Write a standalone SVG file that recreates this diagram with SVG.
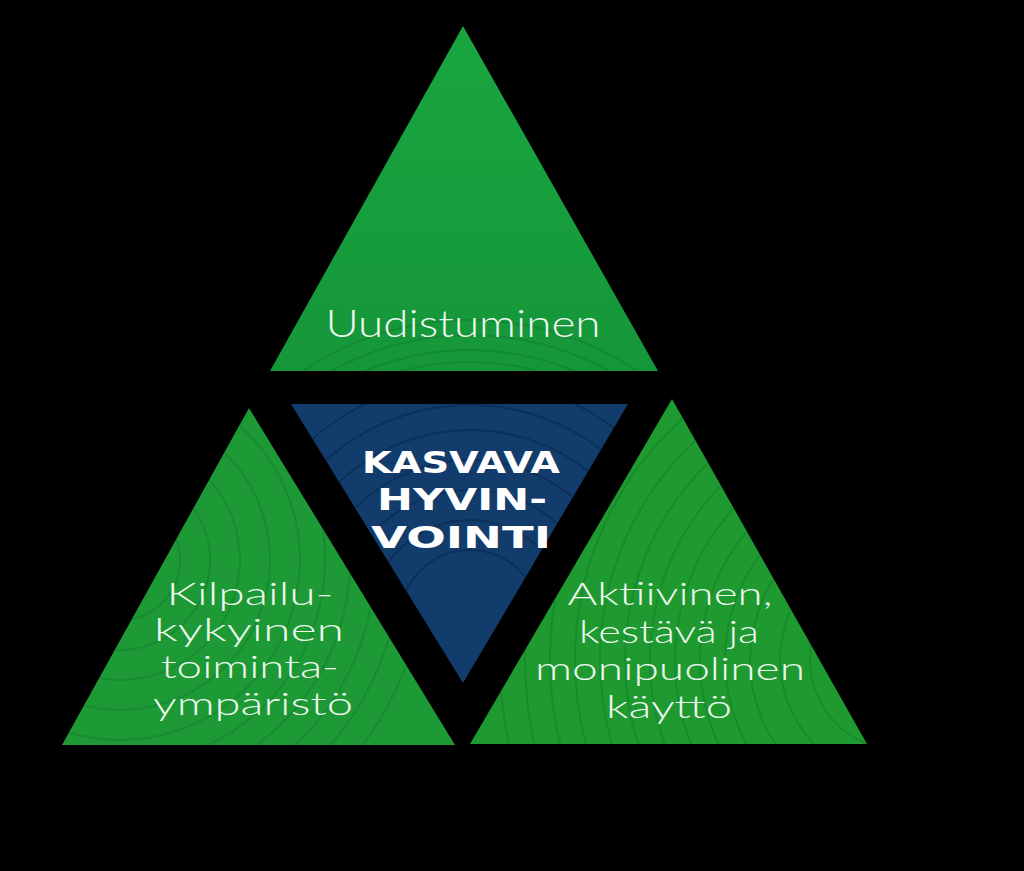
<svg xmlns="http://www.w3.org/2000/svg" width="1024" height="871" viewBox="0 0 1024 871">
<defs>
<style>
.lbl{font-family:Lato,"Open Sans","Liberation Sans",sans-serif;font-weight:300;font-size:37px;fill:#eef8ee;text-anchor:middle}
.ml{font-size:32px}
.ctr{font-family:"DejaVu Sans","Liberation Sans",sans-serif;font-weight:bold;font-size:31px;fill:#ffffff;text-anchor:middle}
.ring{fill:none;stroke:#0b6e26;stroke-opacity:0.3;stroke-width:2}
.ringb{fill:none;stroke:#061f40;stroke-opacity:0.4;stroke-width:2}
</style>
<linearGradient id="gTop" x1="0" y1="0" x2="0" y2="1">
<stop offset="0" stop-color="#19a63f"/>
<stop offset="1" stop-color="#15963a"/>
</linearGradient>
<clipPath id="cTop"><polygon points="463,26 658,371 270,371"/></clipPath>
<clipPath id="cLeft"><polygon points="249,408 455,745 62,745"/></clipPath>
<clipPath id="cRight"><polygon points="672,399 867,744 470,744"/></clipPath>
<clipPath id="cMid"><polygon points="291,404 628,404 463,683"/></clipPath>
</defs>
<rect width="1024" height="871" fill="#000000"/>
<g id="node-top">
<polygon points="463,26 658,371 270,371" fill="url(#gTop)"/>
<g clip-path="url(#cTop)">
<circle class="ring" cx="470" cy="620" r="300"/>
<circle class="ring" cx="470" cy="620" r="285"/>
<circle class="ring" cx="470" cy="620" r="270"/>
<circle class="ring" cx="470" cy="620" r="258"/>
<circle class="ring" cx="470" cy="620" r="246"/>
</g>
<text class="lbl" x="463" y="337" textLength="275" lengthAdjust="spacingAndGlyphs">Uudistuminen</text>
</g>
<g id="node-left">
<polygon points="249,408 455,745 62,745" fill="#1d9a35"/>
<g clip-path="url(#cLeft)">
<circle class="ring" cx="120" cy="560" r="60"/>
<circle class="ring" cx="120" cy="560" r="90"/>
<circle class="ring" cx="120" cy="560" r="120"/>
<circle class="ring" cx="120" cy="560" r="150"/>
<circle class="ring" cx="120" cy="560" r="180"/>
<circle class="ring" cx="120" cy="560" r="205"/>
<circle class="ring" cx="120" cy="560" r="230"/>
<circle class="ring" cx="120" cy="560" r="255"/>
<circle class="ring" cx="120" cy="560" r="280"/>
<circle class="ring" cx="120" cy="560" r="305"/>
</g>
<text class="lbl ml" x="250" y="605" textLength="167" lengthAdjust="spacingAndGlyphs">Kilpailu-</text>
<text class="lbl ml" x="249" y="641" textLength="190" lengthAdjust="spacingAndGlyphs">kykyinen</text>
<text class="lbl ml" x="250" y="678" textLength="178" lengthAdjust="spacingAndGlyphs">toiminta-</text>
<text class="lbl ml" x="253" y="715" textLength="200" lengthAdjust="spacingAndGlyphs">ympäristö</text>
</g>
<g id="node-right">
<polygon points="672,399 867,744 470,744" fill="#1f9a30"/>
<g clip-path="url(#cRight)">
<circle class="ring" cx="900" cy="660" r="60"/>
<circle class="ring" cx="900" cy="660" r="90"/>
<circle class="ring" cx="900" cy="660" r="120"/>
<circle class="ring" cx="900" cy="660" r="150"/>
<circle class="ring" cx="900" cy="660" r="175"/>
<circle class="ring" cx="900" cy="660" r="200"/>
<circle class="ring" cx="900" cy="660" r="225"/>
<circle class="ring" cx="900" cy="660" r="250"/>
<circle class="ring" cx="900" cy="660" r="275"/>
<circle class="ring" cx="900" cy="660" r="300"/>
<circle class="ring" cx="900" cy="660" r="325"/>
<circle class="ring" cx="900" cy="660" r="350"/>
<circle class="ring" cx="900" cy="660" r="375"/>
<circle class="ring" cx="900" cy="660" r="400"/>
</g>
<text class="lbl ml" x="670" y="605" textLength="205" lengthAdjust="spacingAndGlyphs">Aktiivinen,</text>
<text class="lbl ml" x="669" y="643" textLength="180" lengthAdjust="spacingAndGlyphs">kestävä ja</text>
<text class="lbl ml" x="670" y="680" textLength="270" lengthAdjust="spacingAndGlyphs">monipuolinen</text>
<text class="lbl ml" x="669" y="718" textLength="126" lengthAdjust="spacingAndGlyphs">käyttö</text>
</g>
<g id="node-center">
<polygon points="291,404 628,404 463,683" fill="#123c6c"/>
<g clip-path="url(#cMid)">
<circle class="ringb" cx="470" cy="620" r="70"/>
<circle class="ringb" cx="470" cy="620" r="100"/>
<circle class="ringb" cx="470" cy="620" r="130"/>
<circle class="ringb" cx="470" cy="620" r="160"/>
<circle class="ringb" cx="470" cy="620" r="190"/>
<circle class="ringb" cx="470" cy="620" r="215"/>
<circle class="ringb" cx="470" cy="620" r="240"/>
</g>
<text class="ctr" x="461" y="473" textLength="198" lengthAdjust="spacingAndGlyphs">KASVAVA</text>
<text class="ctr" x="462" y="510" textLength="170" lengthAdjust="spacingAndGlyphs">HYVIN-</text>
<text class="ctr" x="461" y="548" textLength="180" lengthAdjust="spacingAndGlyphs">VOINTI</text>
</g>
<g id="connectors"></g>
</svg>
